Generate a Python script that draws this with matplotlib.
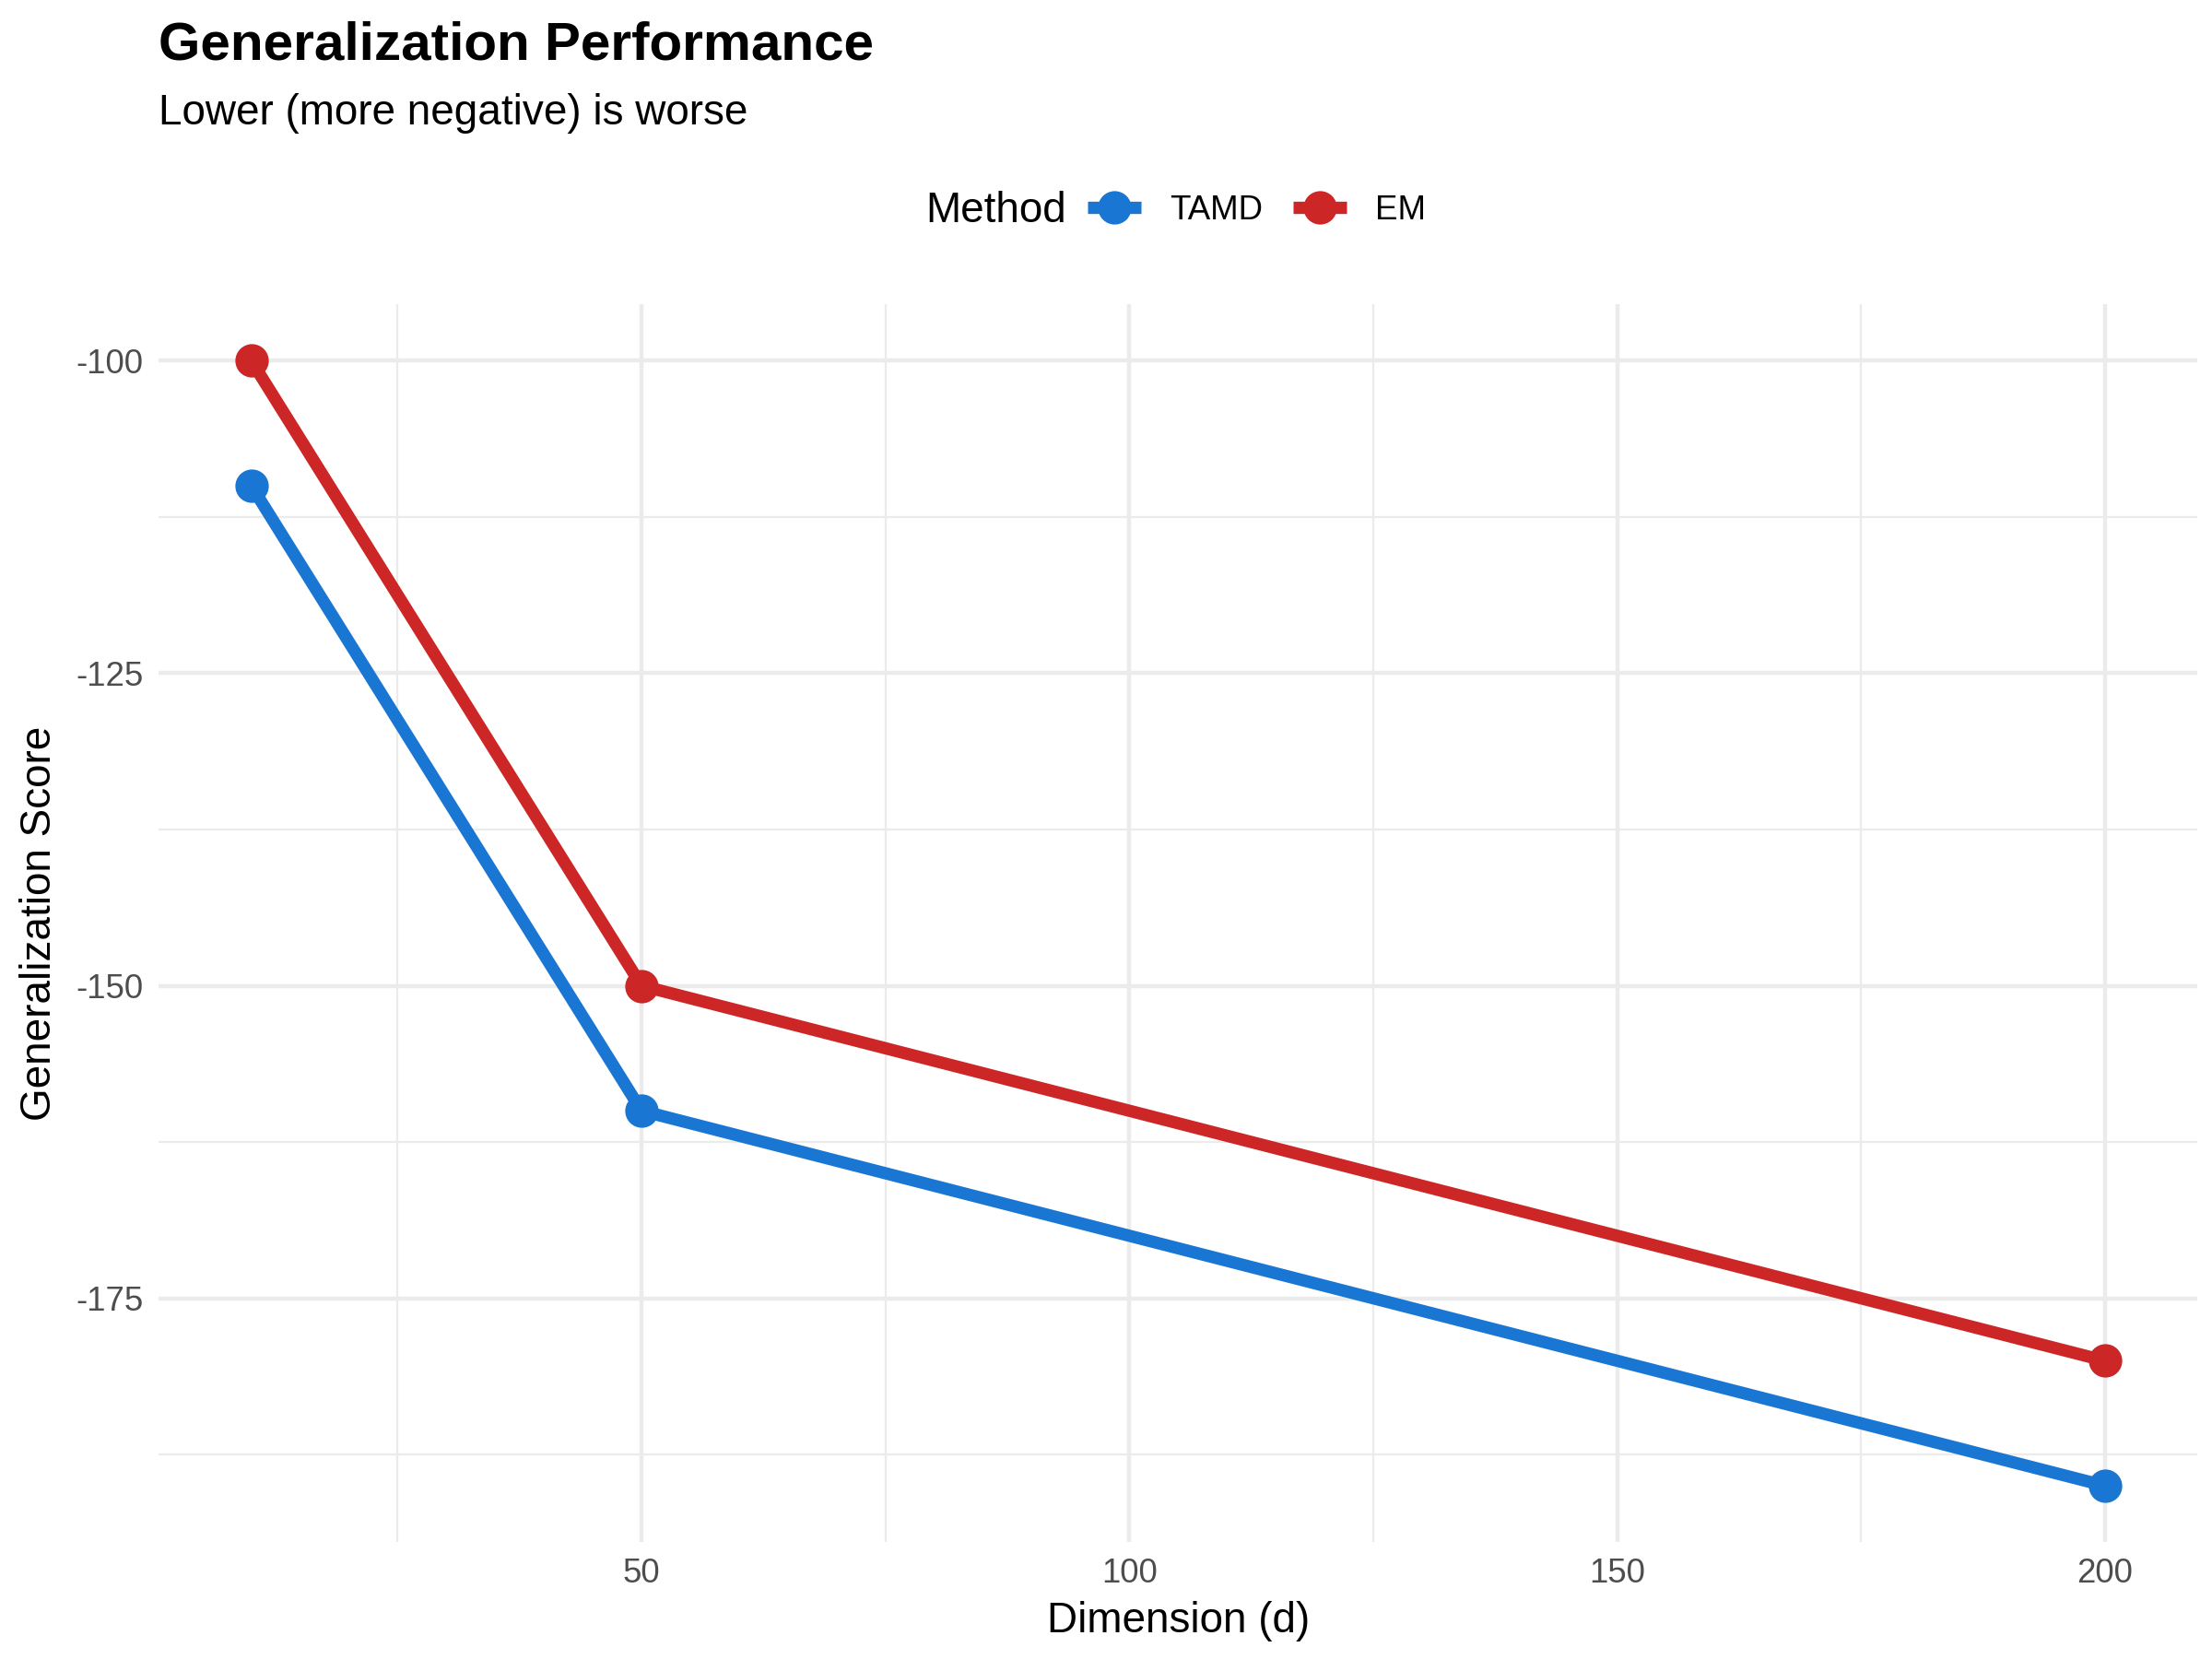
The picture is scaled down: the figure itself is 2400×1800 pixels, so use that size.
import numpy as np
import matplotlib
matplotlib.use("Agg")
from matplotlib import pyplot as plt
from matplotlib.ticker import MultipleLocator

plt.rcParams['font.family'] = ['Liberation Sans', 'DejaVu Sans']
plt.rcParams['axes.unicode_minus'] = False

# data
dims = [10, 50, 200]
methods = ["TAMD", "EM"]
tamd = [-110, -160, -190]
em = [-100, -150, -180]
colors = {"TAMD": "#1976D2", "EM": "#CC2626"}

fig = plt.figure(figsize=(8, 6), dpi=300)
ax = fig.add_axes([0.0717, 0.0705, 0.9935 - 0.0717, 0.8165 - 0.0705])

for name, vals in zip(methods, [tamd, em]):
    ax.plot(dims, vals, color=colors[name], lw=3.2, marker='o', ms=7.7,
            solid_capstyle='butt', label=name, zorder=3)

# limits like ggplot's 5% expansion
xr = max(dims) - min(dims)
ax.set_xlim(min(dims) - 0.05 * xr, max(dims) + 0.05 * xr)
allv = tamd + em
yr = max(allv) - min(allv)
ax.set_ylim(min(allv) - 0.05 * yr, max(allv) + 0.05 * yr)

ax.xaxis.set_major_locator(MultipleLocator(50))
ax.xaxis.set_minor_locator(MultipleLocator(25))
ax.yaxis.set_major_locator(MultipleLocator(25))
ax.yaxis.set_minor_locator(MultipleLocator(12.5))

ax.grid(which='major', color='#EBEBEB', lw=1.07)
ax.grid(which='minor', color='#EBEBEB', lw=0.53)
ax.set_axisbelow(True)
for s in ax.spines.values():
    s.set_visible(False)
ax.tick_params(which='both', length=0)
ax.tick_params(labelsize=8.8, labelcolor='#4D4D4D', pad=4)
ax.set_xticks([50, 100, 150, 200])
ax.set_xticklabels(["50", "100", "150", "200"])

ax.set_xlabel("Dimension (d)", fontsize=11, labelpad=3)
ax.set_ylabel("Generalization Score", fontsize=11, labelpad=4)

fig.text(0.0717, 0.964, "Generalization Performance", fontsize=14,
         fontweight='bold', ha='left', va='baseline')
fig.text(0.0717, 0.925, "Lower (more negative) is worse", fontsize=11,
         ha='left', va='baseline')

fig.text(1004 / 2400, 0.873, "Method", fontsize=11, ha='left', va='center')
handles, labels = ax.get_legend_handles_labels()
fig.legend(handles, labels, loc='center left', bbox_to_anchor=(1180 / 2400, 0.873),
           ncol=2, frameon=False, fontsize=8.8, handlelength=1.58,
           handletextpad=0.85, columnspacing=0.9, borderpad=0, borderaxespad=0)

fig.savefig("out.png", dpi=300)
